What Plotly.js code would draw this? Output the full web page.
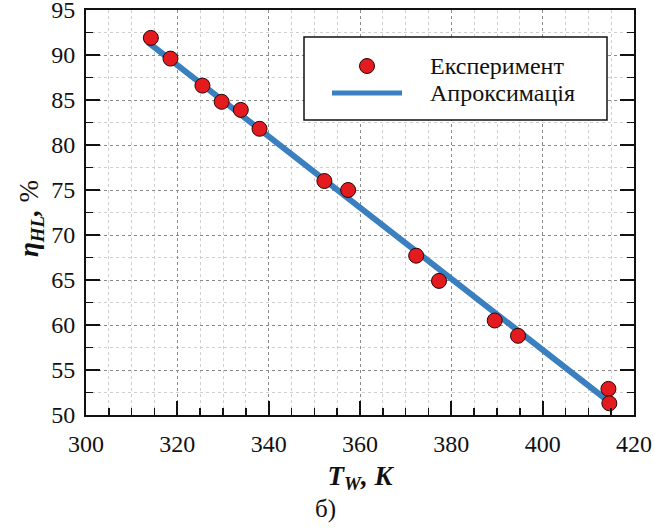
<!DOCTYPE html>
<html>
<head>
<meta charset="utf-8">
<script src="https://cdn.plot.ly/plotly-3.0.1.min.js"></script>
<style>html,body{margin:0;padding:0;background:#fff;}#chart{width:654px;height:530px;}</style>
</head>
<body>
<div id="chart"></div>
<script>
// Experimental points
const tempK = [314.2, 318.5, 325.5, 329.7, 333.9, 338.0, 352.2, 357.4, 372.3, 377.3, 389.5, 394.6, 414.4, 414.6];
const effPct = [91.9, 89.6, 86.6, 84.8, 83.9, 81.8, 76.0, 75.0, 67.7, 64.9, 60.5, 58.8, 52.9, 51.3];
// Approximation line end points
const fitT = [313.6, 413.6];
const fitEff = [91.4, 51.85];
// Labels
const seriesNames = ['Експеримент', 'Апроксимація'];
const xTitle = '<b><i>T<sub>W</sub>, K</i></b>';
const yTitle = '<b><i>η<sub>HL</sub>,</i></b> %';
const panelLabel = 'б)';

const serif = 'Liberation Serif';
const red = '#e31b1f';
const blue = '#3a7fc0';

const traces = [
  {x: fitT, y: fitEff, mode: 'lines', name: seriesNames[1], showlegend: false,
   line: {color: blue, width: 6}, hoverinfo: 'skip'},
  {x: tempK, y: effPct, mode: 'markers', name: seriesNames[0], showlegend: false,
   marker: {color: red, size: 15, line: {color: '#2a0505', width: 1}}}
];

// plot-area pixel helpers for legend / label placement (paper coords)
const L = 86, R = 634, T = 10, B = 415;
const px = v => (v - L) / (R - L);
const py = v => (B - v) / (B - T);

const layout = {
  width: 654, height: 530,
  margin: {l: L, r: 654 - R, t: T, b: 530 - B},
  paper_bgcolor: '#fff', plot_bgcolor: '#fff',
  font: {family: serif, color: '#111', size: 23},
  showlegend: false,
  xaxis: {
    range: [300, 420], dtick: 20, tick0: 300,
    ticks: 'inside', ticklen: 14, tickwidth: 2, tickcolor: '#111',
    showline: true, linecolor: '#111', linewidth: 2, mirror: true,
    showgrid: true, gridcolor: '#8a8a8a', gridwidth: 1, griddash: 'dot',
    zeroline: false, ticklabeloverflow: 'allow',
    ticklabelstandoff: 6,
    tickfont: {family: serif, size: 24, color: '#111'},
    minor: {dtick: 5, ticks: 'inside', ticklen: 7, tickwidth: 1.5, tickcolor: '#111',
            showgrid: true, gridcolor: '#cfcfcf', gridwidth: 1, griddash: 'dot'},
    title: {text: xTitle, font: {family: serif, size: 27, color: '#111'}, standoff: 10}
  },
  xaxis2: {
    overlaying: 'x', side: 'top', anchor: 'y',
    range: [300, 420], dtick: 5, tick0: 300,
    ticks: 'inside', ticklen: 7, tickwidth: 1.5, tickcolor: '#111',
    showticklabels: false, showgrid: false, showline: false, zeroline: false
  },
  yaxis: {
    range: [50, 95], dtick: 5, tick0: 50,
    ticks: 'inside', ticklen: 14, tickwidth: 2, tickcolor: '#111',
    showline: true, linecolor: '#111', linewidth: 2, mirror: 'ticks',
    showgrid: true, gridcolor: '#8a8a8a', gridwidth: 1, griddash: 'dot',
    zeroline: false, ticklabeloverflow: 'allow',
    ticklabelstandoff: 4,
    tickfont: {family: serif, size: 24, color: '#111'},
    minor: {dtick: 2.5, ticks: 'inside', ticklen: 7, tickwidth: 1.5, tickcolor: '#111',
            showgrid: true, gridcolor: '#cfcfcf', gridwidth: 1, griddash: 'dot'}
  },
  shapes: [
    {type: 'rect', xref: 'paper', yref: 'paper', layer: 'above',
     x0: px(304), x1: px(607), y0: py(120), y1: py(37),
     fillcolor: '#fff', line: {color: '#111', width: 1.5}},
    {type: 'line', xref: 'paper', yref: 'paper', layer: 'above',
     x0: px(332), x1: px(402), y0: py(93), y1: py(93),
     line: {color: blue, width: 5}},
    {type: 'circle', xref: 'paper', yref: 'paper', layer: 'above',
     xsizemode: 'pixel', ysizemode: 'pixel', xanchor: px(367), yanchor: py(66),
     x0: -7.5, x1: 7.5, y0: -7.5, y1: 7.5,
     fillcolor: red, line: {color: '#2a0505', width: 1}}
  ],
  annotations: [
    {text: yTitle, xref: 'paper', yref: 'paper', x: px(31), y: py(219),
     xanchor: 'center', yanchor: 'middle', textangle: -90, showarrow: false,
     font: {family: serif, size: 27, color: '#111'}},
    {text: seriesNames[0], xref: 'paper', yref: 'paper', x: px(428), y: py(66),
     xanchor: 'left', yanchor: 'middle', showarrow: false,
     font: {family: serif, size: 24, color: '#111'}},
    {text: seriesNames[1], xref: 'paper', yref: 'paper', x: px(428), y: py(93),
     xanchor: 'left', yanchor: 'middle', showarrow: false,
     font: {family: serif, size: 24, color: '#111'}},
    {text: panelLabel, xref: 'paper', yref: 'paper', x: px(325), y: py(509),
     xanchor: 'center', yanchor: 'middle', showarrow: false,
     font: {family: serif, size: 25, color: '#111'}}
  ]
};

Plotly.newPlot('chart', traces, layout, {displayModeBar: false, staticPlot: true});
</script>
</body>
</html>
